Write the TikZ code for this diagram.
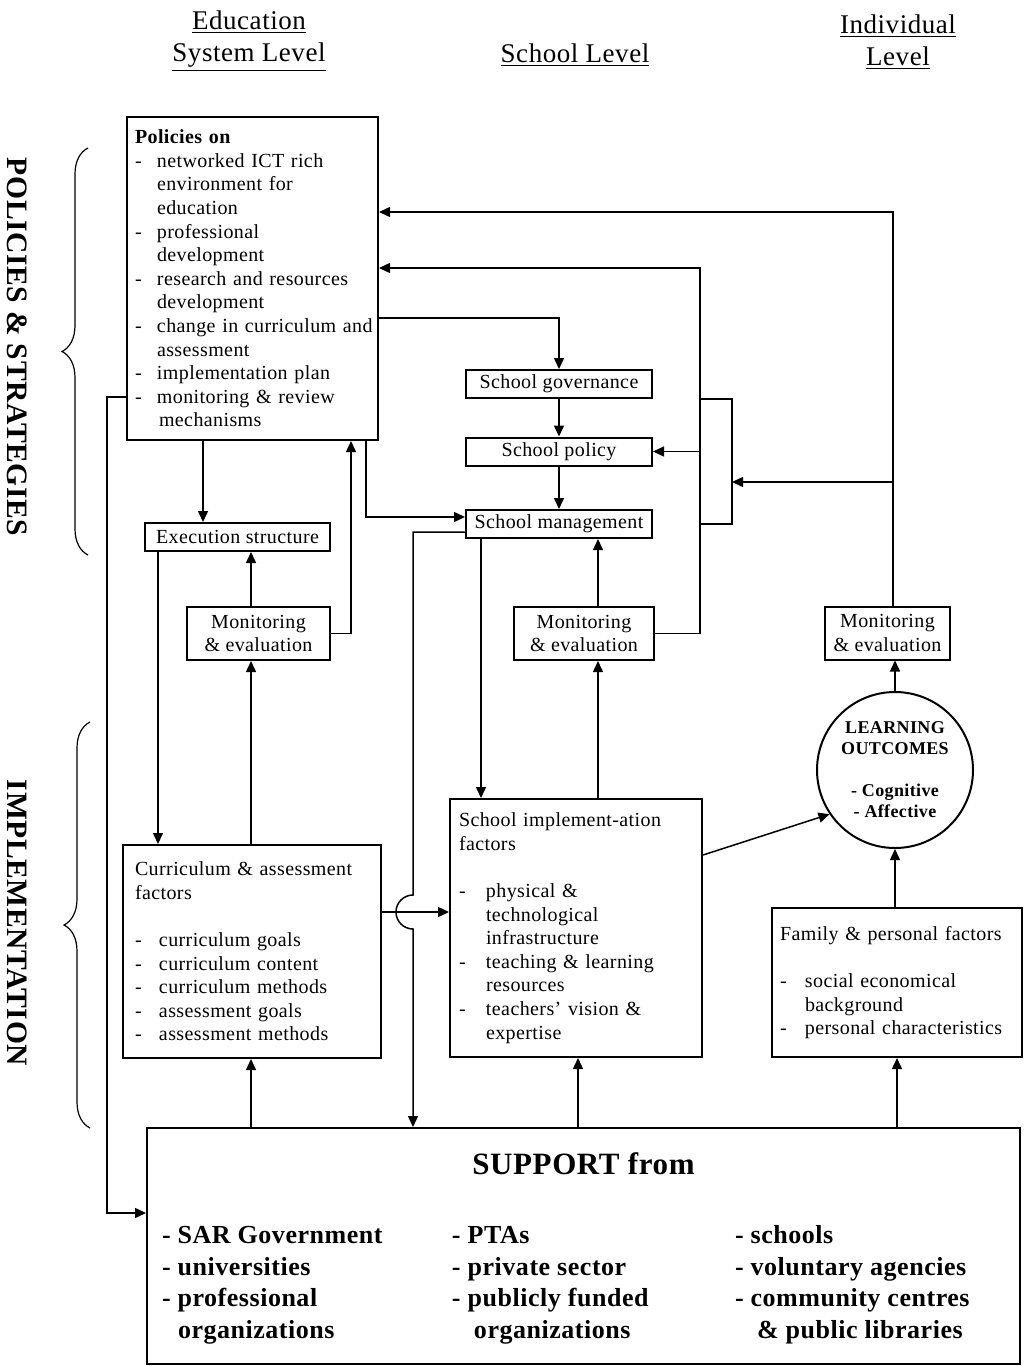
\documentclass[tikz,border=0pt]{standalone}
\usepackage{fontspec}
\setmainfont{Liberation Serif}[LetterSpace=2]
\usetikzlibrary{arrows.meta,positioning,decorations.pathreplacing}

\newcommand{\itm}[1][11pt]{\makebox[#1][l]{-}}
\newcommand{\cnt}[1][11pt]{\hspace*{#1}}

\begin{document}
\begin{tikzpicture}[
    x=0.5pt, y=-0.5pt,
    font=\fontsize{10}{11.8}\selectfont,
    line width=0.75pt,
    box/.style={draw, line width=1pt, inner sep=1pt, align=center},
    smallbox/.style={box, minimum height=14pt},
    monbox/.style={box, minimum height=26.5pt},
    listbox/.style={draw, line width=1pt, align=left, inner xsep=4pt},
    arrow/.style={-{Triangle[length=5.5pt,width=5pt]}},
    heading/.style={align=center, font=\fontsize{13.5}{16}\selectfont},
    side/.style={rotate=-90, font=\fontsize{14.8}{16}\selectfont\bfseries},
    bracebar/.style={decorate, decoration={brace, amplitude=13pt}, line width=0.6pt}
]
\useasboundingbox (0,0) rectangle (1024,1366);

% --- column headings ---
\node[heading] (hedu) at (249,41) {\underline{Education}\\\underline{System Level}};
\node[heading] (hsch) at (575,55) {\underline{School Level}};
\node[heading] (hind) at (898,42) {\underline{Individual}\\\underline{Level}};

% --- row labels with braces ---
\node[side] (lpol) at (17,347) {POLICIES \& STRATEGIES};
\node[side] (limp) at (17,923) {IMPLEMENTATION};
\draw[bracebar] (88,555) -- (88,148);
\draw[bracebar] (90,1128) -- (90,722);

% --- education system level ---
\node[listbox, text width=117.5pt, minimum height=161.5pt] (pol) at (252.5,278.5) {\textbf{Policies on}\\
\itm networked ICT rich\\
\cnt environment for\\
\cnt education\\
\itm professional\\
\cnt development\\
\itm research and resources\\
\cnt development\\
\itm \mbox{change in curriculum and}\\
\cnt assessment\\
\itm implementation plan\\
\itm monitoring \& review\\
\cnt[12pt]mechanisms};
\node[smallbox, minimum width=92.5pt] (exec) at (237.5,537) {Execution structure};
\node[monbox, minimum width=71.5pt] (mon1) at (258.5,633.5) {Monitoring\\\& evaluation};
\node[listbox, text width=117pt, inner xsep=6pt, minimum height=106.5pt] (curr) at (252,951.5) {Curriculum \& assessment\\
factors\\[11.8pt]
\itm[12pt]curriculum goals\\
\itm[12pt]curriculum content\\
\itm[12pt]curriculum methods\\
\itm[12pt]assessment goals\\
\itm[12pt]assessment methods};

% --- school level ---
\node[smallbox, minimum width=93pt] (gov) at (559,384) {School governance};
\node[smallbox, minimum width=93pt] (spol) at (559,451.5) {School policy};
\node[smallbox, minimum width=93pt] (smgmt) at (559,524) {School management};
\node[monbox, minimum width=70pt] (mon2) at (584,633.5) {Monitoring\\\& evaluation};
\node[listbox, text width=117pt, inner xsep=4.5pt, minimum height=129pt] (simp) at (576,928) {School implement-ation\\
factors\\[11.8pt]
\itm[13.5pt]physical \&\\
\cnt[13.5pt]technological\\
\cnt[13.5pt]infrastructure\\
\itm[13.5pt]teaching \& learning\\
\cnt[13.5pt]resources\\
\itm[13.5pt]teachers' vision \&\\
\cnt[13.5pt]expertise};

% --- individual level ---
\node[monbox, minimum width=62.5pt] (mon3) at (887.5,633) {Monitoring\\\& evaluation};
\node[draw, circle, line width=1pt, minimum size=78pt, inner sep=0pt, align=center,
      font=\fontsize{9}{10.5}\selectfont\bfseries] (lo) at (895,770)
      {LEARNING\\OUTCOMES\\[10.5pt]- Cognitive\\- Affective};
\node[listbox, text width=117pt, minimum height=74.5pt] (fam) at (897,982.5) {Family \& personal factors\\[11.8pt]
\itm[12.5pt]social economical\\
\cnt[12.5pt]background\\
\itm[12.5pt]\mbox{personal characteristics}};

% --- support ---
\node[draw, line width=1pt, minimum width=436.5pt, minimum height=118pt, inner sep=0pt] (sup) at (583.5,1246)
{\fontsize{13}{15.75}\selectfont\bfseries
\begin{tabular}{@{}p{145pt}@{}p{141.5pt}@{}p{135pt}@{}}
\multicolumn{3}{c}{\rule{0pt}{15pt}\fontsize{15.5}{19}\selectfont SUPPORT from}\\[19pt]
- SAR Government & - PTAs & - schools\\
- universities & - private sector & - voluntary agencies\\
- professional & - publicly funded & - community centres\\
\hspace*{8pt}organizations & \hspace*{11pt}organizations & \hspace*{11pt}\& public libraries
\end{tabular}};

% --- guide coordinates ---
\coordinate (fb1) at (893,212);
\coordinate (fb2) at (700,268);
\coordinate (brk) at (732,482);
\coordinate (pg) at (0,318);
\coordinate (xa) at (366,517);
\coordinate (xb) at (203,0);
\coordinate (xc) at (251,0);
\coordinate (xd) at (351,0);
\coordinate (xe) at (158,0);
\coordinate (xf) at (481,0);
\coordinate (xg) at (598,0);
\coordinate (xh) at (578,0);
\coordinate (jmp) at (413,912);
\coordinate (lp) at (107,397);
\coordinate (lq) at (107,1213);

% feedback loops to policies
\draw[arrow] (fb1 |- mon3.north) -- (fb1) -- (pol.east |- fb1);
\draw[arrow] (fb1 |- brk) -- (brk);
\draw[arrow] (mon2.east) -| (fb2) -- (pol.east |- fb2);
\draw[arrow] (fb2 |- spol.east) -- (spol.east);
\draw (fb2 |- gov.south) -| (brk) |- (fb2 |- smgmt.east);

% policies down to school level
\draw[arrow] (pol.east |- pg) -| (gov.north);
\draw[arrow] (gov) -- (spol);
\draw[arrow] (spol) -- (smgmt);
\draw[arrow] (xa |- pol.south) |- (smgmt.west |- xa);

% education system column
\draw[arrow] (xb |- pol.south) -- (xb |- exec.north);
\draw[arrow] (xc |- mon1.north) -- (xc |- exec.south);
\draw[arrow] (mon1.east) -| (xd |- pol.south);
\draw[arrow] (xe |- exec.south) -- (xe |- curr.north);
\draw[arrow] (xc |- curr.north) -- (xc |- mon1.south);
\draw[arrow] (xc |- sup.north) -- (xc |- curr.south);

% school column
\draw[arrow] (xf |- smgmt.south) -- (xf |- simp.north);
\draw[arrow] (xg |- simp.north) -- (xg |- mon2.south);
\draw[arrow] (xg |- mon2.north) -- (xg |- smgmt.south);
\draw[arrow] (xh |- sup.north) -- (xh |- simp.south);
\draw[arrow] ([yshift=-4pt]smgmt.west) -| ([yshift=8.5pt]jmp)
    arc[start angle=90, end angle=270, radius=8.5pt] -- (jmp |- sup.north);
\draw[arrow] (curr.east |- jmp) -- (simp.west |- jmp);

% individual column
\draw[arrow] (sup.north -| fam.south) -- (fam.south);
\draw[arrow] (lo.south |- fam.north) -- (lo.south);
\draw[arrow] (lo.north) -- (lo.north |- mon3.south);
\draw[arrow] ([yshift=36.5pt]simp.east) -- (lo.214);

% left loop to support
\draw[arrow] (pol.west |- lp) -- (lp) -- (lq) -- (sup.west |- lq);

\end{tikzpicture}
\end{document}
